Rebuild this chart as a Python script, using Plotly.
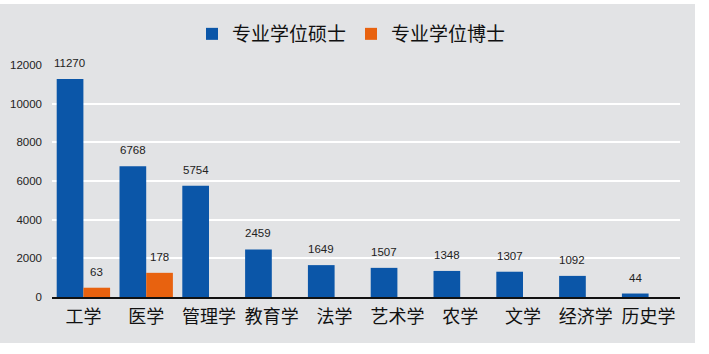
import plotly.graph_objects as go

categories = ["工学", "医学", "管理学", "教育学", "法学", "艺术学", "农学", "文学", "经济学", "历史学"]
master_name = "专业学位硕士"
doctor_name = "专业学位博士"
# printed value labels
master_labels = [11270, 6768, 5754, 2459, 1649, 1507, 1348, 1307, 1092, 44]
doctor_labels = [63, 178, None, None, None, None, None, None, None, None]
# bar heights as drawn in the picture
master_heights = [11270, 6768, 5754, 2459, 1649, 1507, 1348, 1307, 1092, 180]
doctor_heights = [480, 1250, None, None, None, None, None, None, None, None]
y_ticks = [0, 2000, 4000, 6000, 8000, 10000, 12000]

BLUE = "#0b56a8"
ORANGE = "#e8620f"
GRAY = "#e2e3e5"

fig = go.Figure()
fig.add_trace(go.Bar(x=categories, y=master_heights, name=master_name, marker_color=BLUE, marker_line_width=0))
fig.add_trace(go.Bar(x=categories, y=doctor_heights, name=doctor_name, marker_color=ORANGE, marker_line_width=0))

label_font = dict(family="Liberation Sans, Arial", size=11.5, color="#222")
annotations = []
for c, h, lab in zip(categories, master_heights, master_labels):
    annotations.append(dict(x=c, y=h, xref="x", yref="y", text=str(lab), showarrow=False,
                            xshift=-13.5, yshift=8, yanchor="bottom", font=label_font))
for c, h, lab in zip(categories, doctor_heights, doctor_labels):
    if lab is None:
        continue
    annotations.append(dict(x=c, y=h, xref="x", yref="y", text=str(lab), showarrow=False,
                            xshift=13.5, yshift=8, yanchor="bottom", font=label_font))

L, R, T, B = 52, 29, 65, 57
W, H = 709, 354
pw, ph = W - L - R, H - T - B

def px_x(p):
    return (p - L) / pw

def px_y(p):
    return (H - B - p) / ph

fig.update_layout(
    width=W, height=H,
    margin=dict(l=L, r=R, t=T, b=B, pad=0, autoexpand=False),
    paper_bgcolor="white",
    plot_bgcolor="rgba(0,0,0,0)",
    barmode="group",
    bargap=0.15,
    bargroupgap=0,
    annotations=annotations,
    shapes=[dict(type="rect", xref="paper", yref="paper", x0=px_x(0), x1=px_x(695),
                 y0=px_y(343), y1=px_y(4), fillcolor=GRAY, line_width=0, layer="below")],
    legend=dict(orientation="h", x=px_x(192), xanchor="left", y=px_y(34), yanchor="middle",
                font=dict(family="Noto Sans CJK SC", size=19, color="#111"),
                bgcolor="rgba(0,0,0,0)", itemwidth=30, traceorder="normal"),
    xaxis=dict(showgrid=False, showline=True, linecolor="#111", linewidth=2, automargin=False,
               tickfont=dict(family="Noto Sans CJK SC", size=18, color="#111"),
               ticks="", ticklabelstandoff=2),
    yaxis=dict(range=[0, 12000], tickvals=y_ticks, tickformat="d", showgrid=True,
               gridcolor="white", gridwidth=2, automargin=False,
               zeroline=False, showline=False, ticks="",
               tickfont=dict(family="Liberation Sans, Arial", size=11.5, color="#222"),
               ticklabelstandoff=9),
    font=dict(family="Noto Sans CJK SC"),
)

fig.write_html("out.html")
